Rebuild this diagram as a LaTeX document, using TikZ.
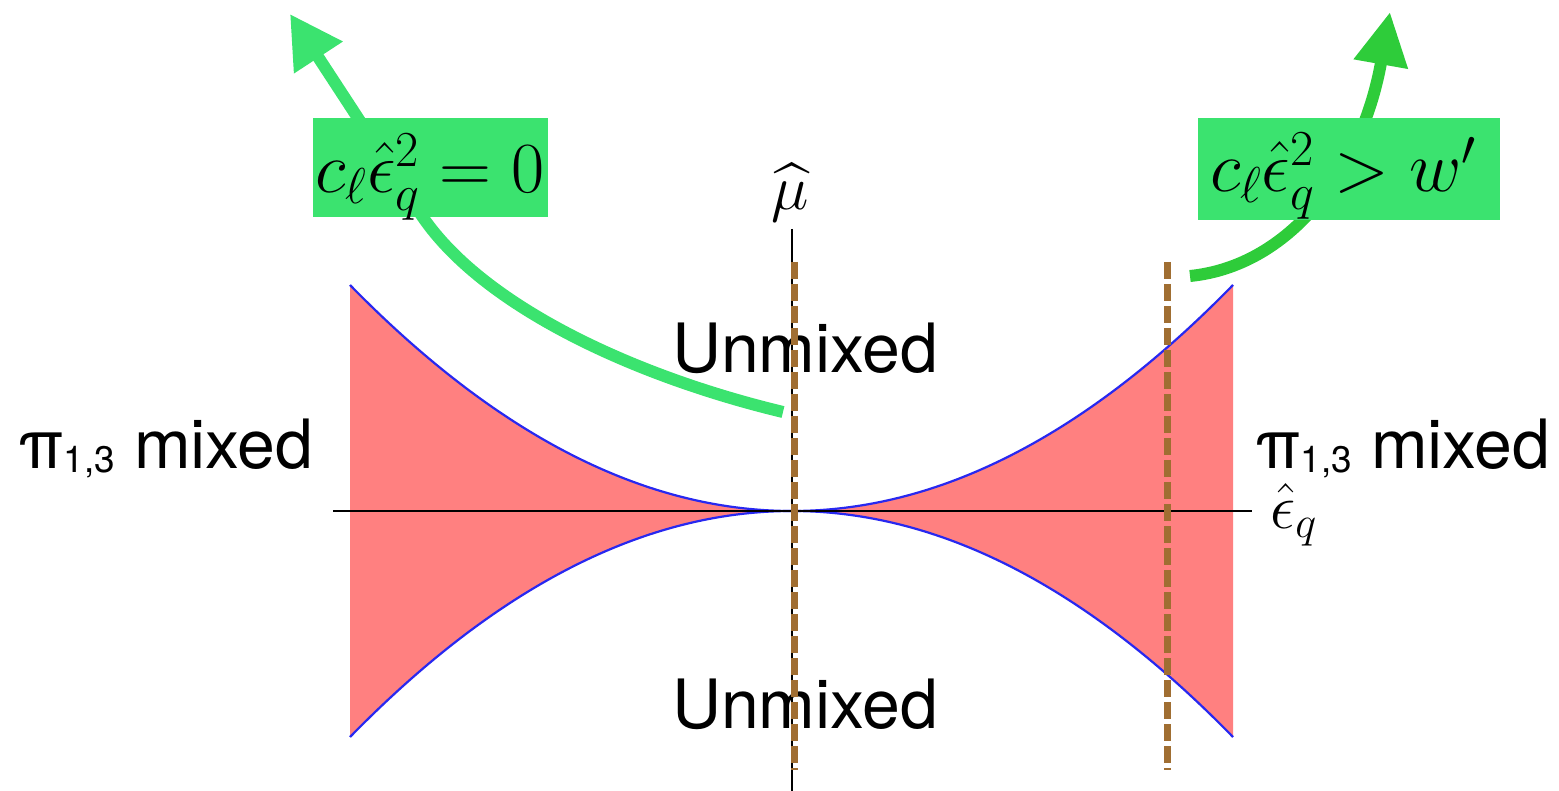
\RequirePackage{fix-cm}
\documentclass[tikz,border=0pt]{standalone}
\usepackage{fontspec}
\DeclareFontShape{OMX}{cmex}{m}{n}{<-> cmex10}{}
\newfontfamily\heros{TeX Gyre Heros}
\usetikzlibrary{arrows.meta}
\definecolor{redfill}{RGB}{255,128,128}
\definecolor{blueline}{RGB}{40,40,240}
\definecolor{brownd}{RGB}{160,110,50}
\definecolor{greenL}{RGB}{59,227,111}
\definecolor{greenR}{RGB}{46,204,58}
\definecolor{greenbox}{RGB}{59,227,111}
\tikzset{
  axisline/.style={draw=black,line width=2pt},
  envelope/.style={draw=blueline,line width=2.2pt},
  browndash/.style={draw=brownd,line width=7pt,dash pattern=on 17pt off 5pt},
  garrowL/.style={draw=greenL,line width=12pt,-{Triangle[length=52pt,width=55pt]}},
  garrowR/.style={draw=greenR,line width=12pt,-{Triangle[length=53pt,width=52pt]}},
  gbox/.style={fill=greenbox,draw=none,inner sep=0pt},
  mathlbl/.style={inner sep=0pt,font=\fontsize{72}{80}\selectfont},
  sanslbl/.style={inner sep=0pt,font=\heros\fontsize{68}{74}\selectfont},
}
\newcommand{\pimixed}{π\raisebox{-4pt}{\fontsize{37}{40}\selectfont 1,3} mixed}
\begin{document}
\begin{tikzpicture}[x=1pt,y=-1pt]
\useasboundingbox (0,0) rectangle (1559,791);
% red region
\fill[redfill] (350,285) .. controls (497.3,435.7) and (644.7,511) .. (792,511)
  .. controls (939,511) and (1086,435.7) .. (1233,285) -- (1233,737)
  .. controls (1086,586.3) and (939,511) .. (792,511)
  .. controls (644.7,511) and (497.3,586.3) .. (350,737) -- cycle;
\draw[envelope] (350,285) .. controls (497.3,435.7) and (644.7,511) .. (792,511)
  .. controls (939,511) and (1086,435.7) .. (1233,285);
\draw[envelope] (350,737) .. controls (497.3,586.3) and (644.7,511) .. (792,511)
  .. controls (939,511) and (1086,586.3) .. (1233,737);
% axes
\coordinate (xl) at (333,511); \coordinate (xr) at (1252,511);
\coordinate (yt) at (792,229); \coordinate (yb) at (792,791);
\draw[axisline] (xl) -- (xr);
\draw[axisline] (yt) -- (yb);
\node[mathlbl,anchor=base] (mu) at (790,210) {\scalebox{0.88}{$\widehat{\mu}$}};
\node[mathlbl,anchor=base west] (eps) at (1270,528) {\scalebox{0.88}{$\hat{\epsilon}_q$}};
% texts
\node[sanslbl,anchor=base west] (un1) at (672,373) {Unmixed};
\node[sanslbl,anchor=base west] (un2) at (672,728) {Unmixed};
\node[sanslbl,anchor=base west] (pl) at (18,468) {\pimixed};
\node[sanslbl,anchor=base west] (pr) at (1255,468) {\pimixed};
% brown dashed lines
\coordinate (d1t) at (794,262); \coordinate (d1b) at (794,770);
\coordinate (d2t) at (1167,262); \coordinate (d2b) at (1167,770);
\draw[browndash] (d1t) -- (d1b);
\draw[browndash] (d2t) -- (d2b);
% green arrows
\coordinate (Ls) at (783,412); \coordinate (Lm) at (420,213); \coordinate (Lt) at (290,14);
\draw[garrowL] (Ls) .. controls (633,376) and (480,305) .. (Lm) -- (Lt);
\coordinate (Rs) at (1190,276); \coordinate (Rt) at (1390,12);
\draw[garrowR] (Rs) .. controls (1290,266) and (1362,170) .. (Rt);
% green label boxes
\node[gbox,minimum width=235pt,minimum height=99pt] (bl) at (430.5,167.5) {};
\node[mathlbl,anchor=base] (tl) at (430,193) {$c_\ell\hat{\epsilon}_q^2=0$};
\node[gbox,minimum width=302pt,minimum height=102pt] (br) at (1349,169) {};
\node[mathlbl,anchor=base] (tr) at (1343,192) {$c_\ell\hat{\epsilon}_q^2>w'$};
\end{tikzpicture}
\end{document}
